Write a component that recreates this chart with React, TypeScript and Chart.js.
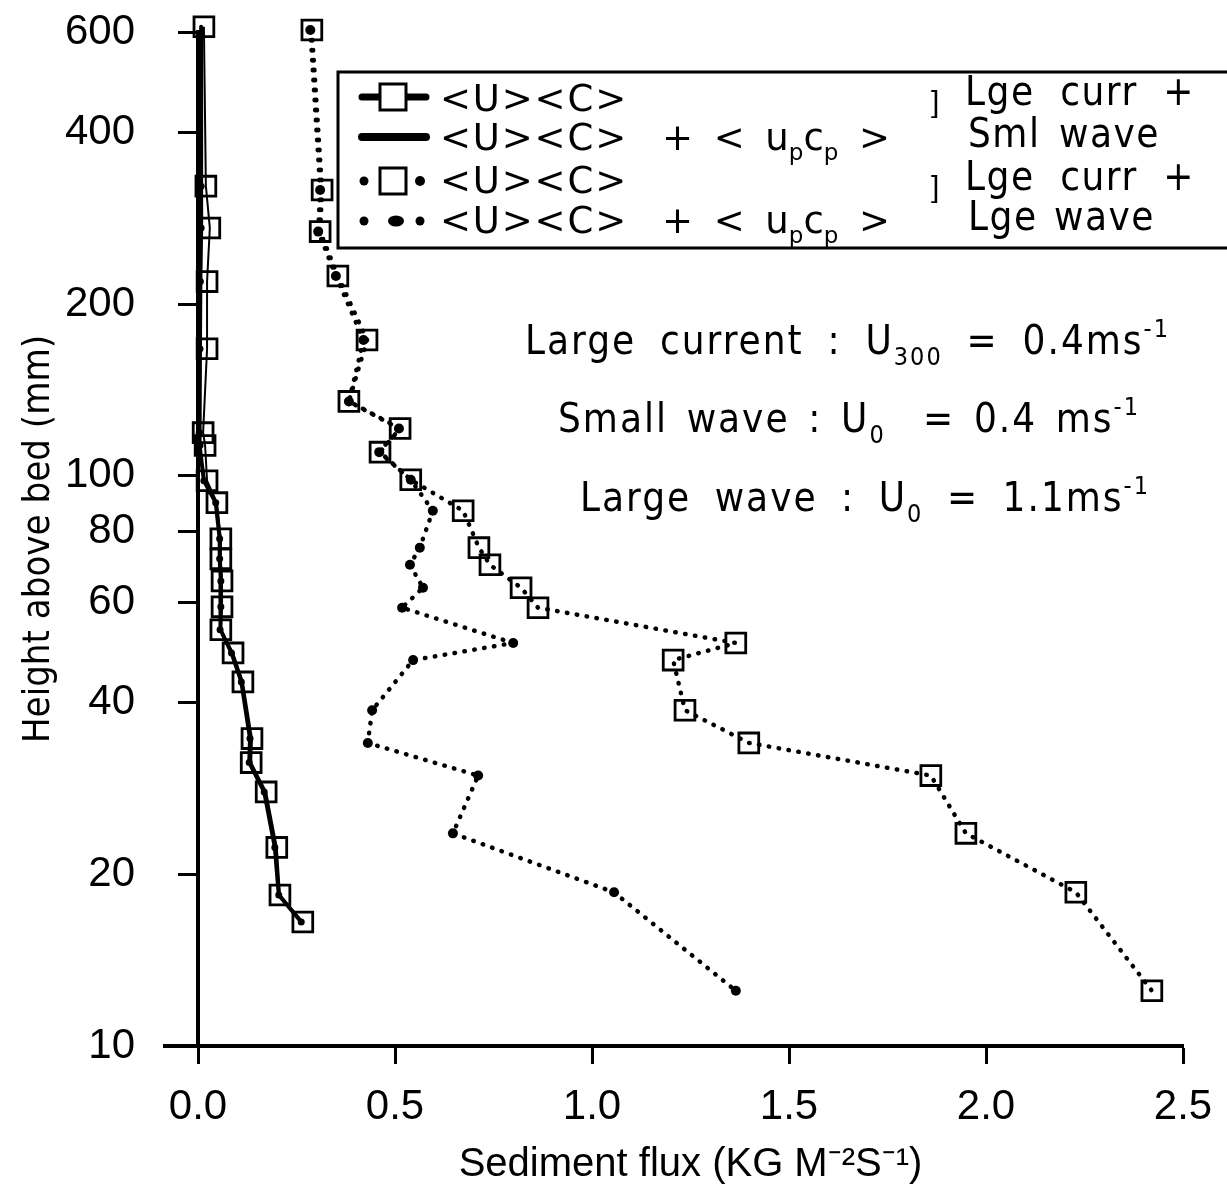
import React, { useEffect, useRef } from 'react';
import { Chart, registerables } from 'chart.js';

Chart.register(...registerables);

// ---------- data ----------
const yTickValues = [10, 20, 40, 60, 80, 100, 200, 400, 600];
const yTickLabels = ['10', '20', '40', '60', '80', '100', '200', '400', '600'];
const xTickValues = [0, 0.5, 1.0, 1.5, 2.0, 2.5];
const xTickLabels = ['0.0', '0.5', '1.0', '1.5', '2.0', '2.5'];

// Large current + small wave
const smlHeights = [613, 322, 272, 219, 167, 119, 113, 98, 89.7, 77.5, 71.5, 65.4, 58.9, 53.7, 48.9, 43.5, 34.6, 31.4, 27.9, 22.3, 18.4, 16.5];
const smlMeanFlux = [0.015, 0.02, 0.03, 0.023, 0.023, 0.013, 0.018, 0.023, 0.048, 0.058, 0.058, 0.061, 0.061, 0.058, 0.089, 0.114, 0.137, 0.135, 0.173, 0.2, 0.208, 0.266];
const smlTotalFlux = [0.008, 0.008, 0.008, 0.006, 0.005, 0.003, 0.005, 0.015, 0.045, 0.055, 0.055, 0.058, 0.058, 0.056, 0.085, 0.11, 0.132, 0.13, 0.168, 0.195, 0.205, 0.262];

// Large current + large wave
const lgeHeights = [605, 317, 268, 224, 173, 135, 121, 110, 98.4, 86.8, 74.8, 69.8, 63.6, 58.7, 50.9, 47.5, 38.8, 34.0, 29.8, 23.6, 18.6, 12.5];
const lgeMeanFlux = [0.289, 0.315, 0.31, 0.355, 0.429, 0.383, 0.513, 0.462, 0.54, 0.673, 0.713, 0.741, 0.82, 0.863, 1.365, 1.206, 1.236, 1.398, 1.86, 1.949, 2.228, 2.421];
const lgeTotalFlux = [0.285, 0.31, 0.305, 0.35, 0.42, 0.383, 0.51, 0.46, 0.54, 0.596, 0.563, 0.538, 0.571, 0.518, 0.8, 0.546, 0.442, 0.431, 0.711, 0.647, 1.056, 1.365];

const seriesLabels = [
  '<U><C> (Lge curr + Sml wave)',
  '<U><C> + <upcp> (Lge curr + Sml wave)',
  '<U><C> (Lge curr + Lge wave)',
  '<U><C> + <upcp> (Lge curr + Lge wave)',
];

type Piece = { t: string; k?: 'sub' | 'sup' };

function pickFont(cands: string[], fallback: string): string {
  const c = document.createElement('canvas').getContext('2d');
  if (!c) return fallback;
  const s = 'abcdefghijklmnopqrstuvwxyzABCDEFGHIJ0123456789';
  c.font = '40px monospace';
  const mono = c.measureText(s).width;
  for (const f of cands) {
    c.font = `40px "${f}", monospace`;
    const w1 = c.measureText(s).width;
    c.font = `40px "${f}", serif`;
    const w2 = c.measureText(s).width;
    if (Math.abs(w1 - w2) < 0.01 && Math.abs(w1 - mono) > 0.5) return f;
  }
  return fallback;
}

function drawRich(
  ctx: CanvasRenderingContext2D,
  pieces: Piece[],
  x0: number,
  x1: number,
  y: number,
  family: string,
  size: number,
  mode: 'letter' | 'word',
  baseLs = 0,
) {
  ctx.save();
  ctx.fillStyle = '#000';
  ctx.textAlign = 'left';
  ctx.textBaseline = 'alphabetic';
  const anyCtx = ctx as any;
  anyCtx.letterSpacing = '0px';
  anyCtx.wordSpacing = '0px';
  const fontFor = (p: Piece) => `${p.k ? Math.round(size * 0.62) : size}px ${family}`;
  let natural = 0;
  let nChars = 0;
  let nSpaces = 0;
  const widths: number[] = [];
  for (const p of pieces) {
    ctx.font = fontFor(p);
    const w = ctx.measureText(p.t).width;
    widths.push(w);
    natural += w;
    nChars += p.t.length;
    nSpaces += (p.t.match(/ /g) || []).length;
  }
  let ls = 0;
  let ws = 0;
  if (mode === 'letter') {
    ls = (x1 - x0 - natural) / Math.max(1, nChars);
  } else {
    ls = baseLs;
    ws = (x1 - x0 - natural - ls * nChars) / Math.max(1, nSpaces);
  }
  anyCtx.letterSpacing = `${ls}px`;
  anyCtx.wordSpacing = `${ws}px`;
  let x = x0;
  pieces.forEach((p, i) => {
    ctx.font = fontFor(p);
    const dy = p.k === 'sub' ? size * 0.28 : p.k === 'sup' ? -size * 0.42 : 0;
    ctx.fillText(p.t, x, y + dy);
    const sp = (p.t.match(/ /g) || []).length;
    x += widths[i] + ls * p.t.length + ws * sp;
  });
  ctx.restore();
}

export default function App() {
  const ref = useRef<HTMLCanvasElement>(null);

  useEffect(() => {
    const canvas = ref.current;
    if (!canvas) return;
    const narrowName = pickFont(['Liberation Sans Narrow', 'DejaVu Sans Condensed', 'Roboto Condensed'], 'Liberation Sans');
    const NARROW = `"${narrowName}", "Liberation Sans", sans-serif`;
    const SANS = '"Liberation Sans", Arial, sans-serif';
    const WIDE = '"DejaVu Sans", sans-serif';

    const mk = (xs: number[], ys: number[]) => xs.map((x, i) => ({ x, y: ys[i] }));
    const dotted = [0.5, 9.5];

    const overlay = {
      id: 'overlayText',
      afterDraw(chart: any) {
        const ctx: CanvasRenderingContext2D = chart.ctx;
        const area = chart.chartArea;
        ctx.save();
        // x-axis stub to the left of the origin
        ctx.strokeStyle = '#000';
        ctx.lineWidth = 4;
        ctx.beginPath();
        ctx.moveTo(163, area.bottom);
        ctx.lineTo(area.left, area.bottom);
        ctx.stroke();

        // legend box (open on the right)
        ctx.lineWidth = 3;
        ctx.beginPath();
        ctx.moveTo(1227, 72);
        ctx.lineTo(338, 72);
        ctx.lineTo(338, 248);
        ctx.lineTo(1227, 248);
        ctx.stroke();

        // legend symbols
        const sq = (cx: number, cy: number) => {
          ctx.lineWidth = 3;
          ctx.strokeRect(cx - 13, cy - 13, 26, 26);
        };
        const dot = (cx: number, cy: number, r: number) => {
          ctx.beginPath();
          ctx.arc(cx, cy, r, 0, Math.PI * 2);
          ctx.fillStyle = '#000';
          ctx.fill();
        };
        ctx.lineCap = 'round';
        // row 1
        ctx.lineWidth = 7;
        ctx.beginPath();
        ctx.moveTo(362, 97);
        ctx.lineTo(426, 97);
        ctx.stroke();
        ctx.fillStyle = '#fff';
        ctx.fillRect(381, 85, 25, 25);
        sq(393, 97);
        // row 2
        ctx.lineWidth = 8;
        ctx.beginPath();
        ctx.moveTo(362, 137);
        ctx.lineTo(426, 137);
        ctx.stroke();
        // row 3
        dot(364, 181, 4.5);
        sq(393, 181);
        dot(420, 181, 5);
        // row 4
        dot(364, 221, 4.5);
        ctx.beginPath();
        ctx.ellipse(396, 221, 8, 5.5, 0, 0, Math.PI * 2);
        ctx.fill();
        dot(420, 221, 4.5);

        // legend texts
        drawRich(ctx, [{ t: '<U><C>' }], 440, 628, 111, WIDE, 37, 'letter');
        drawRich(ctx, [{ t: '<U><C>' }], 440, 628, 150, WIDE, 37, 'letter');
        drawRich(ctx, [{ t: '+ < u' }, { t: 'p', k: 'sub' }, { t: 'c' }, { t: 'p', k: 'sub' }, { t: ' >' }], 662, 890, 150, WIDE, 37, 'word');
        drawRich(ctx, [{ t: '<U><C>' }], 440, 628, 193, WIDE, 37, 'letter');
        drawRich(ctx, [{ t: '<U><C>' }], 440, 628, 233, WIDE, 37, 'letter');
        drawRich(ctx, [{ t: '+ < u' }, { t: 'p', k: 'sub' }, { t: 'c' }, { t: 'p', k: 'sub' }, { t: ' >' }], 662, 890, 233, WIDE, 37, 'word');

        drawRich(ctx, [{ t: ']' }], 931, 941, 112, SANS, 30, 'letter');
        drawRich(ctx, [{ t: ']' }], 931, 941, 197, SANS, 30, 'letter');
        drawRich(ctx, [{ t: 'Lge curr +' }], 965, 1195, 105, NARROW, 40, 'word', 1.5);
        drawRich(ctx, [{ t: 'Sml wave' }], 968, 1160, 147, NARROW, 40, 'word', 1.5);
        drawRich(ctx, [{ t: 'Lge curr +' }], 965, 1195, 190, NARROW, 40, 'word', 1.5);
        drawRich(ctx, [{ t: 'Lge wave' }], 968, 1155, 230, NARROW, 40, 'word', 1.5);

        // annotations
        drawRich(ctx, [{ t: 'Large current : U' }, { t: '300', k: 'sub' }, { t: ' = 0.4ms' }, { t: '-1', k: 'sup' }], 525, 1170, 354, NARROW, 40, 'word', 2);
        drawRich(ctx, [{ t: 'Small wave : U' }, { t: '0', k: 'sub' }, { t: '  = 0.4 ms' }, { t: '-1', k: 'sup' }], 558, 1140, 432, NARROW, 40, 'word', 2);
        drawRich(ctx, [{ t: 'Large wave : U' }, { t: '0', k: 'sub' }, { t: ' = 1.1ms' }, { t: '-1', k: 'sup' }], 580, 1150, 511, NARROW, 40, 'word', 2);
        ctx.restore();
      },
    };

    const chart = new Chart(canvas, {
      type: 'scatter',
      data: {
        datasets: [
          {
            label: seriesLabels[0],
            data: mk(smlMeanFlux, smlHeights),
            showLine: true,
            borderColor: '#000',
            borderWidth: 2,
            pointStyle: 'rect',
            pointRadius: 14,
            pointBorderWidth: 2.8,
            pointBorderColor: '#000',
            pointBackgroundColor: 'rgba(0,0,0,0)',
            clip: false,
          },
          {
            label: seriesLabels[1],
            data: mk(smlTotalFlux, smlHeights),
            showLine: true,
            borderColor: '#000',
            borderWidth: 4,
            pointStyle: 'circle',
            pointRadius: 3.5,
            pointBorderWidth: 0,
            pointBackgroundColor: '#000',
            clip: false,
          },
          {
            label: seriesLabels[2],
            data: mk(lgeMeanFlux, lgeHeights),
            showLine: true,
            borderColor: '#000',
            borderWidth: 4.5,
            borderDash: dotted,
            borderCapStyle: 'round',
            pointStyle: 'rect',
            pointRadius: 14,
            pointBorderWidth: 2.8,
            pointBorderColor: '#000',
            pointBackgroundColor: 'rgba(0,0,0,0)',
            clip: false,
          },
          {
            label: seriesLabels[3],
            data: mk(lgeTotalFlux, lgeHeights),
            showLine: true,
            borderColor: '#000',
            borderWidth: 4.5,
            borderDash: dotted,
            borderCapStyle: 'round',
            pointStyle: 'circle',
            pointRadius: 5,
            pointBorderWidth: 0,
            pointBackgroundColor: '#000',
            clip: false,
          },
        ],
      } as any,
      options: {
        responsive: false,
        animation: false,
        events: [],
        layout: { autoPadding: false, padding: { top: 32, right: 44, left: 0, bottom: 0 } },
        elements: { line: { tension: 0, borderJoinStyle: 'round' } },
        plugins: { legend: { display: false }, tooltip: { enabled: false } },
        scales: {
          x: {
            type: 'linear',
            min: 0,
            max: 2.5,
            afterBuildTicks: (s: any) => {
              s.ticks = xTickValues.map((v) => ({ value: v }));
            },
            afterFit: (s: any) => {
              s.height = 147;
              s.paddingLeft = 0;
              s.paddingRight = 0;
            },
            ticks: {
              callback: (_v: any, i: number) => xTickLabels[i],
              font: { family: SANS, size: 42 },
              color: '#000',
              padding: 18,
              maxRotation: 0,
              autoSkip: false,
            },
            grid: { display: true, drawOnChartArea: false, drawTicks: true, tickLength: 18, tickWidth: 3, color: '#000' },
            border: { display: true, width: 4, color: '#000' },
            title: {
              display: true,
              text: 'Sediment flux (KG M⁻²S⁻¹)',
              font: { family: SANS, size: 40 },
              color: '#000',
              padding: { top: 0, bottom: 4 },
            },
          },
          y: {
            type: 'logarithmic',
            min: 10,
            max: 600,
            afterBuildTicks: (s: any) => {
              s.ticks = yTickValues.map((v) => ({ value: v }));
            },
            afterFit: (s: any) => {
              s.width = 198;
              s.paddingTop = 0;
              s.paddingBottom = 0;
            },
            ticks: {
              callback: (_v: any, i: number) => yTickLabels[i],
              font: { family: SANS, size: 42 },
              color: '#000',
              padding: 43,
              autoSkip: false,
            },
            grid: { display: true, drawOnChartArea: false, drawTicks: true, tickLength: 20, tickWidth: 3, color: '#000' },
            border: { display: true, width: 4, color: '#000' },
            title: {
              display: true,
              text: 'Height above bed (mm)',
              font: { family: NARROW, size: 38 },
              color: '#000',
              padding: { top: 16, bottom: 0 },
            },
          },
        },
      } as any,
      plugins: [overlay],
    });
    return () => chart.destroy();
  }, []);

  return (
    <div style={{ position: 'fixed', left: 0, top: 0, width: 1227, height: 1193, background: '#fff' }}>
      <canvas ref={ref} width={1227} height={1193} style={{ display: 'block', width: 1227, height: 1193 }} />
    </div>
  );
}
